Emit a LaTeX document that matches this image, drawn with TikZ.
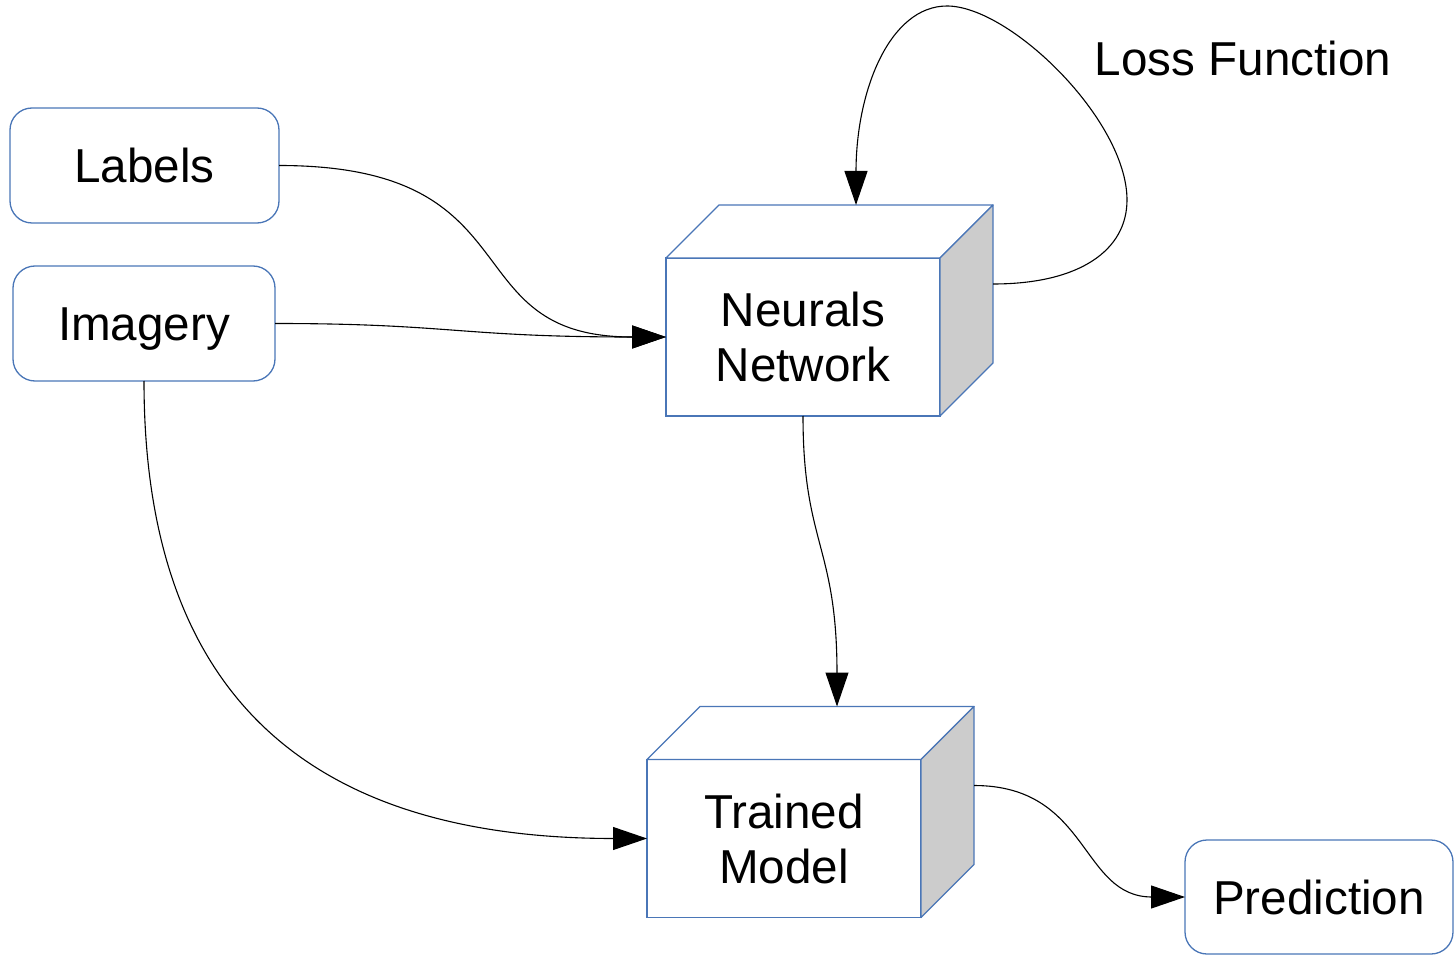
\documentclass[tikz,border=0pt]{standalone}
\usepackage{fontspec}
\setmainfont{Liberation Sans}
\usetikzlibrary{arrows.meta}
\definecolor{boxblue}{RGB}{74,118,183}
\definecolor{sideface}{RGB}{204,204,204}
\begin{document}
\begin{tikzpicture}[x=1pt,y=-1pt,
  every node/.style={font=\fontsize{47.6pt}{55pt}\selectfont, inner sep=0pt},
  roundbox/.style={draw=boxblue, line width=1.3pt, rounded corners=22pt,
    text height=34pt, text depth=0pt, outer sep=0pt},
  cubefront/.style={draw=boxblue, fill=white, line width=1.3pt, outer sep=0pt,
    minimum width=274pt, minimum height=158pt, align=center},
  face/.style={draw=boxblue, line width=1.3pt, line join=round},
  link/.style={draw=black, line width=1.1pt, -{Triangle[length=34pt,width=23pt]}}
]
\useasboundingbox (0,0) rectangle (1456,957);

% input and output boxes
\node[roundbox, minimum width=269pt, minimum height=115pt] (labels) at (144.5,165.5) {Labels};
\node[roundbox, minimum width=262pt, minimum height=115pt] (imagery) at (144,323.5) {Imagery};
\node[roundbox, minimum width=268pt, minimum height=114pt] (pred) at (1319,897) {Prediction};

% network cube
\node[cubefront] (nn) at (803,337) {Neurals\\Network};
\draw[face, fill=white] (nn.north west) -- ++(53,-53) -- ++(274,0) -- (nn.north east) -- cycle;
\draw[face, fill=sideface] (nn.north east) -- ++(53,-53) -- ++(0,158) -- (nn.south east) -- cycle;

% trained model cube
\node[cubefront] (tm) at (784,838.5) {Trained\\Model};
\draw[face, fill=white] (tm.north west) -- ++(53,-53) -- ++(274,0) -- (tm.north east) -- cycle;
\draw[face, fill=sideface] (tm.north east) -- ++(53,-53) -- ++(0,158) -- (tm.south east) -- cycle;

% loop label
\node[anchor=base] (loss) at (1243,76) {Loss Function};

% connectors
\draw[link] (labels.east) .. controls +(260,0) and +(-182,0) .. ([shift={(-34,0)}]nn.west) -- (nn.west);
\draw[link] (imagery.east) .. controls +(175,0) and +(-172,0) .. ([shift={(-34,0)}]nn.west) -- (nn.west);
\draw[link] (imagery.south) .. controls +(0,300) and +(-320,0) .. ([shift={(-33,0)}]tm.west) -- (tm.west);
\draw[link] (nn.south) .. controls +(0,128) and +(0,-128) .. ([shift={(53,-86)}]tm.north) -- ([shift={(53,-53)}]tm.north);
\draw[link] ([shift={(53,-53)}]tm.east) .. controls +(116,0) and +(-72,0) .. ([shift={(-33,0)}]pred.west) -- (pred.west);
\draw[link] ([shift={(53,-53)}]nn.east) .. controls (1080,284) and (1127,250) .. (1127,200)
  .. controls (1127,120) and (1010,6) .. (947,6)
  .. controls (890,6) and (856,90) .. ([shift={(53,-86)}]nn.north) -- ([shift={(53,-53)}]nn.north);
\end{tikzpicture}
\end{document}
